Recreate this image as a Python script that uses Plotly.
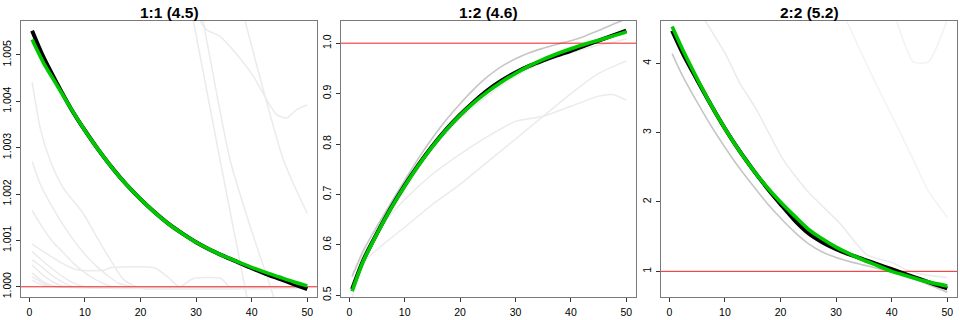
import plotly.graph_objects as go

# ---------------- data ----------------
X = [0.5, 2.5, 5, 7.5, 10, 12.5, 15, 17.5, 20, 22.5, 25, 27.5, 30, 32.5, 35, 37.5, 40, 42.5, 45, 47.5, 50]

titles = ["1:1 (4.5)", "1:2 (4.6)", "2:2 (5.2)"]

# panel 1 (1:1)
p1_black = [1.00552, 1.00496, 1.00438, 1.00384, 1.00337, 1.00294, 1.00255, 1.00220, 1.00189, 1.00161,
            1.00136, 1.00115, 1.00096, 1.00080, 1.00066, 1.00053, 1.00040, 1.00028, 1.00017, 1.00006, 0.99995]
p1_green = [1.00533, 1.00484, 1.00434, 1.00384, 1.00337, 1.00294, 1.00255, 1.00220, 1.00189, 1.00161,
            1.00136, 1.00115, 1.00096, 1.00080, 1.00066, 1.00054, 1.00042, 1.00031, 1.00021, 1.00011, 1.00002]
p1_faint = [
    ([0.5, 2, 3.7, 6, 9.7, 12, 14.5, 17, 20, 25, 30, 40, 50],
     [1.00442, 1.00340, 1.00274, 1.00215, 1.00158, 1.00110, 1.00060, 1.00015, 0.99997, 0.99995, 0.99995, 0.99996, 0.99997]),
    ([0.5, 2, 4, 6, 8, 10, 12, 14, 16, 20, 30, 50],
     [1.00270, 1.00220, 1.00175, 1.00135, 1.00100, 1.00070, 1.00045, 1.00025, 1.00008, 0.99997, 0.99996, 0.99997]),
    ([0.5, 2, 4, 6, 8, 10, 12, 15, 20, 50],
     [1.00165, 1.00135, 1.00100, 1.00075, 1.00050, 1.00030, 1.00015, 1.00000, 0.99998, 0.99998]),
    ([0.5, 2, 4, 6, 8.8, 13.5, 14.5, 22.5, 25, 27, 29.5, 34.5, 36, 40, 50],
     [1.00092, 1.00080, 1.00065, 1.00050, 1.00036, 1.00036, 1.00041, 1.00041, 1.00020, 1.00000, 1.00018, 1.00018, 1.00000, 0.99998, 0.99998]),
    ([0.5, 2, 4, 6, 8, 10, 50], [1.00076, 1.00060, 1.00040, 1.00022, 1.00008, 1.00000, 0.99999]),
    ([0.5, 2, 4, 6, 8, 50], [1.00058, 1.00045, 1.00025, 1.00010, 1.00000, 0.99999]),
    ([0.5, 2, 4, 6, 50], [1.00047, 1.00030, 1.00012, 1.00002, 0.99999]),
    ([0.5, 1.5, 3, 5, 50], [1.00030, 1.00020, 1.00008, 1.00000, 1.00000]),
    ([0.5, 1.5, 3, 5, 50], [1.00022, 1.00015, 1.00005, 1.00000, 1.00000]),
    ([0.5, 1.5, 3, 50], [1.00015, 1.00008, 1.00002, 1.00000]),
    ([29.0, 29.5, 34.3, 39.1, 39.6], [1.00605, 1.00574, 1.00274, 0.99980, 0.99950]),
    ([30.6, 31.0, 36.1, 40.0, 43.9, 44.4], [1.00615, 1.00590, 1.00274, 1.00120, 0.99980, 0.99950]),
    ([30.0, 30.7, 31.9, 34.3, 36.6, 40.3, 42.7, 44.5, 46.3, 48.1, 50],
     [1.00600, 1.00574, 1.00554, 1.00540, 1.00511, 1.00454, 1.00403, 1.00371, 1.00364, 1.00382, 1.00392]),
    ([38.3, 38.8, 45.7, 50], [1.00600, 1.00574, 1.00274, 1.00158]),
]

# panel 2 (1:2)
p2_black = [0.512, 0.569, 0.623, 0.673, 0.718, 0.759, 0.796, 0.829, 0.858, 0.884, 0.907, 0.926, 0.942,
            0.955, 0.966, 0.976, 0.985, 0.995, 1.005, 1.015, 1.025]
p2_green = [0.508, 0.567, 0.622, 0.672, 0.717, 0.758, 0.795, 0.828, 0.857, 0.882, 0.904, 0.923, 0.940,
            0.955, 0.968, 0.979, 0.989, 0.998, 1.006, 1.014, 1.022]
p2_gray = [0.537, 0.588, 0.637, 0.683, 0.728, 0.772, 0.812, 0.848, 0.880, 0.909, 0.934, 0.954, 0.969,
           0.981, 0.990, 0.998, 1.005, 1.014, 1.025, 1.037, 1.048]
p2_faint = [
    ([0.5, 2.5, 5, 10, 15, 20, 25, 30, 35, 40, 45, 50],
     [0.496, 0.560, 0.618, 0.708, 0.790, 0.850, 0.896, 0.934, 0.962, 0.981, 0.996, 1.008]),
    ([0.5, 3, 6, 10, 15, 20, 25, 30, 35, 40, 45, 47.5, 50],
     [0.540, 0.590, 0.640, 0.690, 0.740, 0.780, 0.815, 0.845, 0.855, 0.875, 0.895, 0.898, 0.887]),
    ([0.5, 3, 6, 10, 15, 20, 25, 30, 35, 40, 45, 50],
     [0.520, 0.570, 0.600, 0.635, 0.680, 0.720, 0.765, 0.810, 0.855, 0.900, 0.940, 0.965]),
]

# panel 3 (2:2)
p3_black = [4.47, 4.13, 3.76, 3.40, 3.06, 2.75, 2.47, 2.21, 1.97, 1.74, 1.55, 1.42, 1.32, 1.24, 1.17,
            1.10, 1.03, 0.96, 0.89, 0.82, 0.755]
p3_green = [4.53, 4.18, 3.78, 3.40, 3.06, 2.75, 2.47, 2.22, 2.00, 1.80, 1.61, 1.47, 1.35, 1.25, 1.16,
            1.08, 1.00, 0.94, 0.88, 0.83, 0.79]
p3_gray = [4.14, 3.80, 3.44, 3.10, 2.79, 2.50, 2.24, 1.99, 1.77, 1.57, 1.40, 1.28, 1.20, 1.14, 1.09,
           1.04, 0.99, 0.93, 0.86, 0.78, 0.70]
p3_faint = [
    ([6.0, 6.5, 10, 12.7, 15.7, 20.5, 24.7, 30.7, 35.5, 40.3, 42.7, 46, 50],
     [4.70, 4.61, 4.15, 3.71, 3.33, 2.61, 2.17, 1.69, 1.24, 1.12, 1.02, 0.95, 0.91]),
    ([31.4, 31.9, 36, 40, 43.9, 46.5, 50], [4.70, 4.61, 3.90, 3.25, 2.61, 2.17, 1.78]),
    ([40.6, 40.9, 43.9, 46.6, 49.9, 50.2], [4.70, 4.61, 4.02, 4.02, 4.61, 4.70]),
]

x_ticks = [0, 10, 20, 30, 40, 50]
y_ticks = [
    [1.000, 1.001, 1.002, 1.003, 1.004, 1.005],
    [0.5, 0.6, 0.7, 0.8, 0.9, 1.0],
    [1, 2, 3, 4],
]
y_ticktext = [
    ["1.000", "1.001", "1.002", "1.003", "1.004", "1.005"],
    ["0.5", "0.6", "0.7", "0.8", "0.9", "1.0"],
    ["1", "2", "3", "4"],
]
ref_value = 1.0

# ---------------- style ----------------
W, H = 960, 320
FONT = "Liberation Sans, Arial, Helvetica, sans-serif"
x_range = [-1.5, 51.75]
y_ranges = [[0.99978, 1.00573], [0.4966, 1.044], [0.63, 4.61]]
x_px = [(21, 317), (341, 636), (661, 957)]
TOP, BOTTOM = 21, 297

FAINT = "#ebebeb"
FAINTER = "#f3f3f3"
MID = "#c6c6c6"
BLACK = "#000000"
GREEN = "#00c800"
RED = "#ee2222"

fig = go.Figure()

panels = [
    (p1_black, p1_green, None, p1_faint),
    (p2_black, p2_green, p2_gray, p2_faint),
    (p3_black, p3_green, p3_gray, p3_faint),
]

for i, (blk, grn, gry, faint) in enumerate(panels):
    xa = "x" if i == 0 else f"x{i+1}"
    ya = "y" if i == 0 else f"y{i+1}"
    for j, (fx, fy) in enumerate(faint):
        col = FAINTER if (i == 2 and j > 0) else FAINT
        fig.add_trace(go.Scatter(x=fx, y=fy, mode="lines", xaxis=xa, yaxis=ya,
                                 line=dict(color=col, width=1.5, shape="spline", smoothing=0.6),
                                 hoverinfo="skip", showlegend=False))
    if gry is not None:
        fig.add_trace(go.Scatter(x=X, y=gry, mode="lines", xaxis=xa, yaxis=ya,
                                 line=dict(color=MID, width=1.6, shape="spline", smoothing=0.8),
                                 hoverinfo="skip", showlegend=False))
    # horizontal reference line across the whole axis range
    fig.add_trace(go.Scatter(x=x_range, y=[ref_value, ref_value], mode="lines", xaxis=xa, yaxis=ya,
                             line=dict(color=RED, width=1),
                             hoverinfo="skip", showlegend=False))
    fig.add_trace(go.Scatter(x=X, y=blk, mode="lines", xaxis=xa, yaxis=ya,
                             line=dict(color=BLACK, width=4, shape="spline", smoothing=0.8),
                             hoverinfo="skip", showlegend=False))
    fig.add_trace(go.Scatter(x=X, y=grn, mode="lines", xaxis=xa, yaxis=ya,
                             line=dict(color=GREEN, width=3.6, shape="spline", smoothing=0.8),
                             hoverinfo="skip", showlegend=False))

layout = dict(
    width=W, height=H,
    margin=dict(l=0, r=0, t=TOP, b=H - BOTTOM, pad=0),
    paper_bgcolor="white", plot_bgcolor="white",
    font=dict(family=FONT, color="#000000", size=10.5),
    showlegend=False,
)

annotations = []
for i in range(3):
    xk = "xaxis" if i == 0 else f"xaxis{i+1}"
    yk = "yaxis" if i == 0 else f"yaxis{i+1}"
    ya = "y" if i == 0 else f"y{i+1}"
    xa = "x" if i == 0 else f"x{i+1}"
    x0, x1 = x_px[i]
    layout[xk] = dict(
        domain=[x0 / W, x1 / W], range=x_range, anchor=ya,
        tickvals=x_ticks, ticks="outside", ticklen=4, tickwidth=1, tickcolor="#333333",
        showgrid=False, zeroline=False,
        showline=True, mirror=True, linecolor="#7a7a7a", linewidth=1.2,
        tickfont=dict(family=FONT, size=10.5, color="#000000"),
        ticklabelstandoff=1,
    )
    layout[yk] = dict(
        domain=[0, 1], range=y_ranges[i], anchor=xa,
        tickvals=y_ticks[i], ticktext=y_ticktext[i], tickangle=-90,
        ticks="outside", ticklen=4, tickwidth=1, tickcolor="#333333",
        showgrid=False, zeroline=False,
        showline=True, mirror=True, linecolor="#7a7a7a", linewidth=1.2,
        tickfont=dict(family=FONT, size=10.5, color="#000000"),
        ticklabelstandoff=1,
    )
    annotations.append(dict(
        text=f"<b>{titles[i]}</b>", xref="paper", yref="paper",
        x=(x0 + x1) / 2 / W, y=1 + (TOP - 12) / (BOTTOM - TOP),
        xanchor="center", yanchor="middle", showarrow=False,
        font=dict(family=FONT, size=15.5, color="#000000"),
    ))

layout["annotations"] = annotations
fig.update_layout(**layout)
fig.write_html("out.html")
